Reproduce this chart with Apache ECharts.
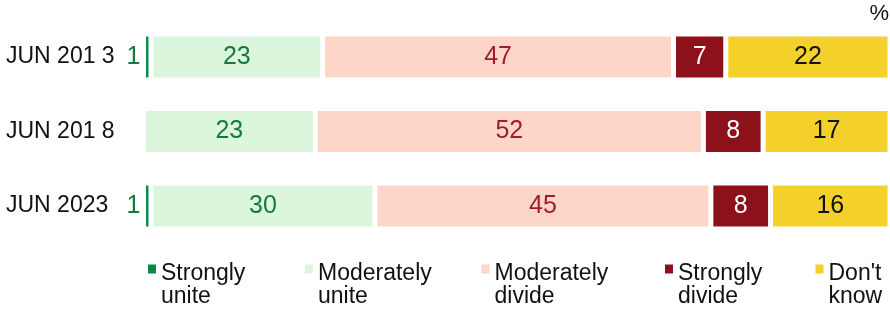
<!DOCTYPE html>
<html>
<head>
<meta charset="utf-8">
<script src="https://cdn.jsdelivr.net/npm/echarts@6/dist/echarts.min.js"></script>
<style>html,body{margin:0;padding:0;background:#fff}#c{width:890px;height:312px}</style>
</head>
<body>
<div id="c"></div>
<script>
const categories = ['JUN 201 3', 'JUN 201 8', 'JUN 2023'];
const seriesNames = ['Strongly\nunite', 'Moderately\nunite', 'Moderately\ndivide', 'Strongly\ndivide', "Don't\nknow"];
const stronglyUnite = [1, 0, 1];
const moderatelyUnite = [23, 23, 30];
const moderatelyDivide = [47, 52, 45];
const stronglyDivide = [7, 8, 8];
const dontKnow = [22, 17, 16];

const FONT = "'Liberation Sans', Arial, sans-serif";
const colors = ['#0b8a47', '#dbf6dc', '#fdd6c8', '#8d111a', '#f4d02b'];
const labelColors = ['#137a3d', '#167a3c', '#9e1f26', '#ffffff', '#111111'];
const values = [stronglyUnite, moderatelyUnite, moderatelyDivide, stronglyDivide, dontKnow];
const legendLefts = [148, 305, 481.5, 665, 815.5];

const series = values.map((vals, i) => ({
  name: seriesNames[i],
  type: 'bar',
  stack: 'total',
  data: vals,
  barWidth: 46,
  itemStyle: { color: colors[i], borderColor: '#ffffff', borderWidth: 2.5 },
  label: {
    show: true,
    position: i === 0 ? 'left' : 'inside',
    distance: 3,
    color: labelColors[i],
    fontFamily: FONT,
    fontSize: 25,
    formatter: p => (p.value > 0 ? String(p.value) : '')
  }
}));

const legends = seriesNames.map((name, i) => ({
  data: [name],
  left: legendLefts[i],
  top: 239,
  padding: 0,
  itemWidth: 8,
  itemHeight: 18,
  icon: 'path://M0,0h8v9h-8zM0,18h8',
  itemStyle: { borderWidth: 0 },
  selectedMode: false,
  formatter: n => ' \n' + n,
  textStyle: { fontFamily: FONT, fontSize: 23, color: '#111', lineHeight: 23 }
}));

const chart = echarts.init(document.getElementById('c'), null, { renderer: 'canvas' });
chart.setOption({
  animation: false,
  backgroundColor: '#ffffff',
  title: {
    text: '%',
    right: 1,
    top: 3,
    padding: 0,
    textStyle: { fontFamily: FONT, fontSize: 22, fontWeight: 'normal', color: '#111' }
  },
  grid: { left: 143.5, width: 748, top: 19.75, height: 223.5 },
  xAxis: { type: 'value', min: 0, max: 100, show: false },
  yAxis: {
    type: 'category',
    data: categories,
    inverse: true,
    axisLine: { show: false },
    axisTick: { show: false },
    axisLabel: { align: 'left', margin: 137.5, color: '#111', fontFamily: FONT, fontSize: 23 }
  },
  legend: legends,
  series: series
});
</script>
</body>
</html>
